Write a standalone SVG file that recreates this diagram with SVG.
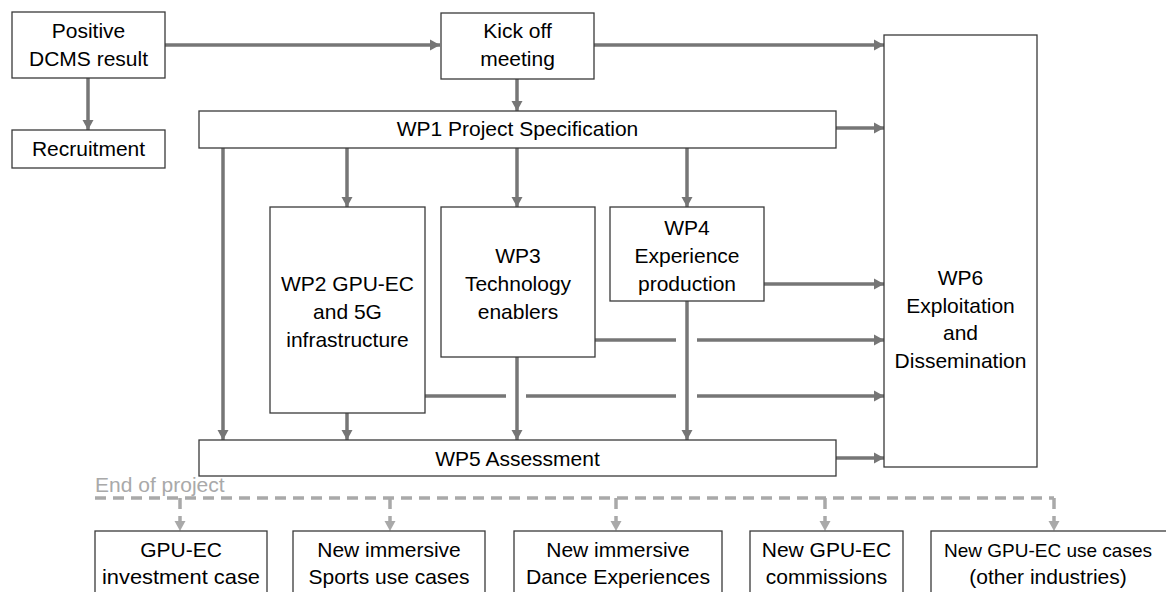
<svg xmlns="http://www.w3.org/2000/svg" width="1166" height="592" viewBox="0 0 1166 592">
<style>
.box{fill:#fff;stroke:#3a3a3a;stroke-width:1.3}
.t{font-family:"Liberation Sans",Arial,sans-serif;font-size:21px;fill:#000;text-anchor:middle}
.c{fill:none;stroke:#767676;stroke-width:3.5}
.d{fill:none;stroke:#a9a9a9;stroke-width:3.5;stroke-dasharray:11 7}
</style>
<defs>
<marker id="ah" markerUnits="userSpaceOnUse" markerWidth="11" markerHeight="12" refX="10" refY="6" orient="auto"><path d="M0,0.5 L10,6 L0,11.5 z" fill="#767676"/></marker>
<marker id="ahg" markerUnits="userSpaceOnUse" markerWidth="11" markerHeight="12" refX="10" refY="6" orient="auto"><path d="M0,0.5 L10,6 L0,11.5 z" fill="#a9a9a9"/></marker>
</defs>
<g id="connectors">
<path class="c" marker-end="url(#ah)" d="M165,45 H440"/>
<path class="c" marker-end="url(#ah)" d="M88,78 V130"/>
<path class="c" marker-end="url(#ah)" d="M594,45 H884"/>
<path class="c" marker-end="url(#ah)" d="M517,79 V111"/>
<path class="c" marker-end="url(#ah)" d="M836,128 H884"/>
<path class="c" marker-end="url(#ah)" d="M223,148 V440"/>
<path class="c" marker-end="url(#ah)" d="M347,148 V207"/>
<path class="c" marker-end="url(#ah)" d="M517,148 V207"/>
<path class="c" marker-end="url(#ah)" d="M687,148 V207"/>
<path class="c" marker-end="url(#ah)" d="M764,284 H884"/>
<path class="c" d="M595,340 H676"/>
<path class="c" marker-end="url(#ah)" d="M697,340 H884"/>
<path class="c" d="M425,396 H506 M526,396 H676"/>
<path class="c" marker-end="url(#ah)" d="M697,396 H884"/>
<path class="c" marker-end="url(#ah)" d="M347,413 V440"/>
<path class="c" marker-end="url(#ah)" d="M517,357 V440"/>
<path class="c" marker-end="url(#ah)" d="M687,301 V440"/>
<path class="c" marker-end="url(#ah)" d="M836,458 H884"/>
<path class="d" d="M95,498 H1054"/>
<path class="d" marker-end="url(#ahg)" d="M180,498 V531"/>
<path class="d" marker-end="url(#ahg)" d="M390,498 V531"/>
<path class="d" marker-end="url(#ahg)" d="M616,498 V531"/>
<path class="d" marker-end="url(#ahg)" d="M825,498 V531"/>
<path class="d" marker-end="url(#ahg)" d="M1054,498 V531"/>
</g>
<text x="95" y="492" style="font-family:'Liberation Sans',Arial,sans-serif;font-size:21px;fill:#a9a9a9">End of project</text>
<g id="dcms"><rect class="box" x="12" y="12" width="153" height="66"/><text class="t" x="88.5" y="38">Positive</text><text class="t" x="88.5" y="66">DCMS result</text></g>
<g id="recruitment"><rect class="box" x="12" y="130" width="153" height="38"/><text class="t" x="88.5" y="156">Recruitment</text></g>
<g id="kickoff"><rect class="box" x="441" y="13" width="153" height="66"/><text class="t" x="517.5" y="38">Kick off</text><text class="t" x="517.5" y="66">meeting</text></g>
<g id="wp1"><rect class="box" x="199" y="111" width="637" height="37"/><text class="t" x="517.5" y="136">WP1 Project Specification</text></g>
<g id="wp2"><rect class="box" x="270" y="207" width="155" height="206"/><text class="t" x="347.5" y="291">WP2 GPU-EC</text><text class="t" x="347.5" y="319">and 5G</text><text class="t" x="347.5" y="347">infrastructure</text></g>
<g id="wp3"><rect class="box" x="441" y="207" width="154" height="150"/><text class="t" x="518" y="263">WP3</text><text class="t" x="518" y="291">Technology</text><text class="t" x="518" y="319">enablers</text></g>
<g id="wp4"><rect class="box" x="610" y="207" width="154" height="94"/><text class="t" x="687" y="235">WP4</text><text class="t" x="687" y="263">Experience</text><text class="t" x="687" y="291">production</text></g>
<g id="wp5"><rect class="box" x="199" y="440" width="637" height="36"/><text class="t" x="517.5" y="466">WP5 Assessment</text></g>
<g id="wp6"><rect class="box" x="884" y="35" width="153" height="432"/><text class="t" x="960.5" y="285">WP6</text><text class="t" x="960.5" y="313">Exploitation</text><text class="t" x="960.5" y="340">and</text><text class="t" x="960.5" y="368">Dissemination</text></g>
<g id="out1"><rect class="box" x="95" y="531" width="172" height="70"/><text class="t" x="181" y="557">GPU-EC</text><text class="t" x="181" y="584" textLength="158" lengthAdjust="spacingAndGlyphs">investment case</text></g>
<g id="out2"><rect class="box" x="293" y="531" width="192" height="70"/><text class="t" x="389" y="557">New immersive</text><text class="t" x="389" y="584">Sports use cases</text></g>
<g id="out3"><rect class="box" x="514" y="531" width="208" height="70"/><text class="t" x="618" y="557">New immersive</text><text class="t" x="618" y="584" textLength="184" lengthAdjust="spacingAndGlyphs">Dance Experiences</text></g>
<g id="out4"><rect class="box" x="750" y="531" width="153" height="70"/><text class="t" x="826.5" y="557">New GPU-EC</text><text class="t" x="826.5" y="584">commissions</text></g>
<g id="out5"><rect class="box" x="931" y="531" width="250" height="70"/><text class="t" x="1048" y="557" style="font-size:19px">New GPU-EC use cases</text><text class="t" x="1048" y="584">(other industries)</text></g>
</svg>
